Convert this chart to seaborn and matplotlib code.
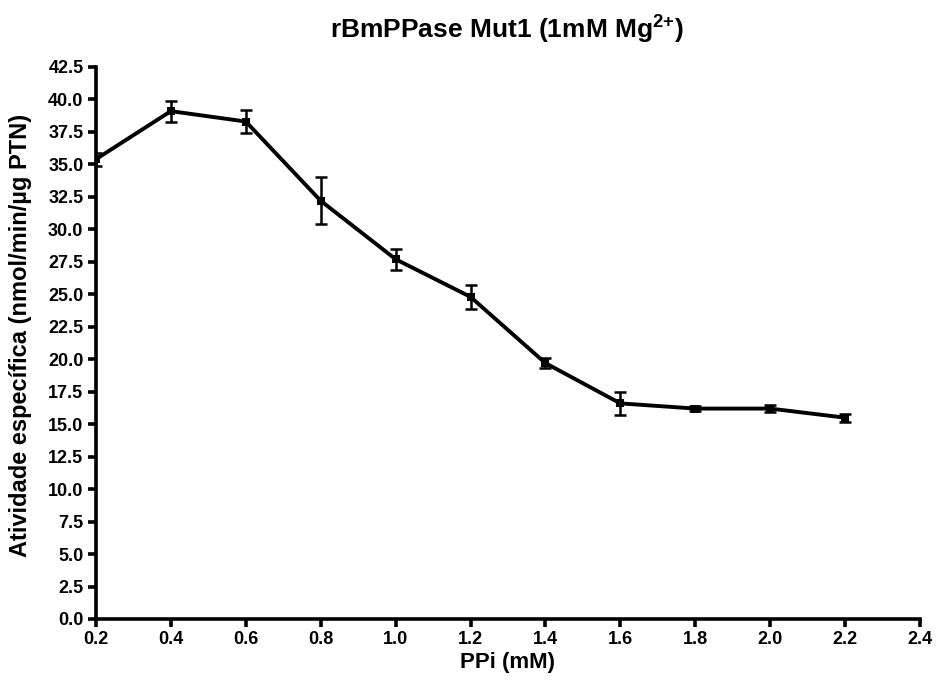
import matplotlib
matplotlib.use("Agg")
import matplotlib.pyplot as plt
import seaborn as sns
import pandas as pd

ppi = [0.2, 0.4, 0.6, 0.8, 1.0, 1.2, 1.4, 1.6, 1.8, 2.0, 2.2]
activity = [35.4, 39.1, 38.3, 32.2, 27.7, 24.8, 19.7, 16.6, 16.2, 16.2, 15.5]
sem = [0.5, 0.8, 0.9, 1.8, 0.8, 0.9, 0.4, 0.9, 0.2, 0.3, 0.3]
x_ticks = [0.2, 0.4, 0.6, 0.8, 1.0, 1.2, 1.4, 1.6, 1.8, 2.0, 2.2, 2.4]
y_ticks = [0.0, 2.5, 5.0, 7.5, 10.0, 12.5, 15.0, 17.5, 20.0, 22.5, 25.0,
           27.5, 30.0, 32.5, 35.0, 37.5, 40.0, 42.5]

df = pd.DataFrame({"ppi": ppi, "activity": activity, "sem": sem})

sns.set_theme(style="ticks")
plt.rcParams["font.family"] = ["Liberation Sans", "DejaVu Sans"]
plt.rcParams["font.weight"] = "bold"
plt.rcParams["text.color"] = "black"
plt.rcParams["axes.labelcolor"] = "black"
plt.rcParams["xtick.color"] = "black"
plt.rcParams["ytick.color"] = "black"
plt.rcParams["mathtext.fontset"] = "custom"
plt.rcParams["mathtext.rm"] = "Liberation Sans"
plt.rcParams["mathtext.bf"] = "Liberation Sans:bold"

fig = plt.figure(figsize=(9.38, 6.87), dpi=100)
ax = fig.add_axes([0.1023, 0.099, 0.8785, 0.8035])

ax.errorbar(df["ppi"], df["activity"], yerr=df["sem"], fmt="none",
            ecolor="black", elinewidth=1.8, capsize=4, capthick=1.8,
            zorder=3)
sns.lineplot(data=df, x="ppi", y="activity", ax=ax, color="black",
             linewidth=2.8, marker="s", markersize=5.5, markeredgewidth=0,
             zorder=4)

ax.set_xlim(0.2, 2.4)
ax.set_ylim(0, 42.5)
ax.set_xticks(x_ticks)
ax.set_yticks(y_ticks)
ax.set_xticklabels([f"{v:.1f}" for v in x_ticks], fontsize=13,
                   fontweight="bold", color="black")
ax.set_yticklabels([f"{v:.1f}" for v in y_ticks], fontsize=13,
                   fontweight="bold", color="black")

for side in ("top", "right"):
    ax.spines[side].set_visible(False)
for side in ("left", "bottom"):
    ax.spines[side].set_linewidth(2.6)
    ax.spines[side].set_color("black")
ax.tick_params(axis="both", width=2.6, length=6, color="black", pad=3)

ax.set_xlabel("PPi (mM)", fontsize=16, fontweight="bold", color="black")
ax.xaxis.set_label_coords(0.5, -0.06)
ax.set_ylabel("Atividade específica (nmol/min/µg PTN)", fontsize=17,
              fontweight="bold", color="black")
ax.yaxis.set_label_coords(-0.078, 0.513)

fig.text(0.54, 1 - 38 / 687, r"rBmPPase Mut1 (1mM Mg$^{\mathbf{2{+}}}$)",
         fontsize=19, fontweight="bold", ha="center", va="baseline",
         color="black")

fig.savefig("out.png", dpi=100)
